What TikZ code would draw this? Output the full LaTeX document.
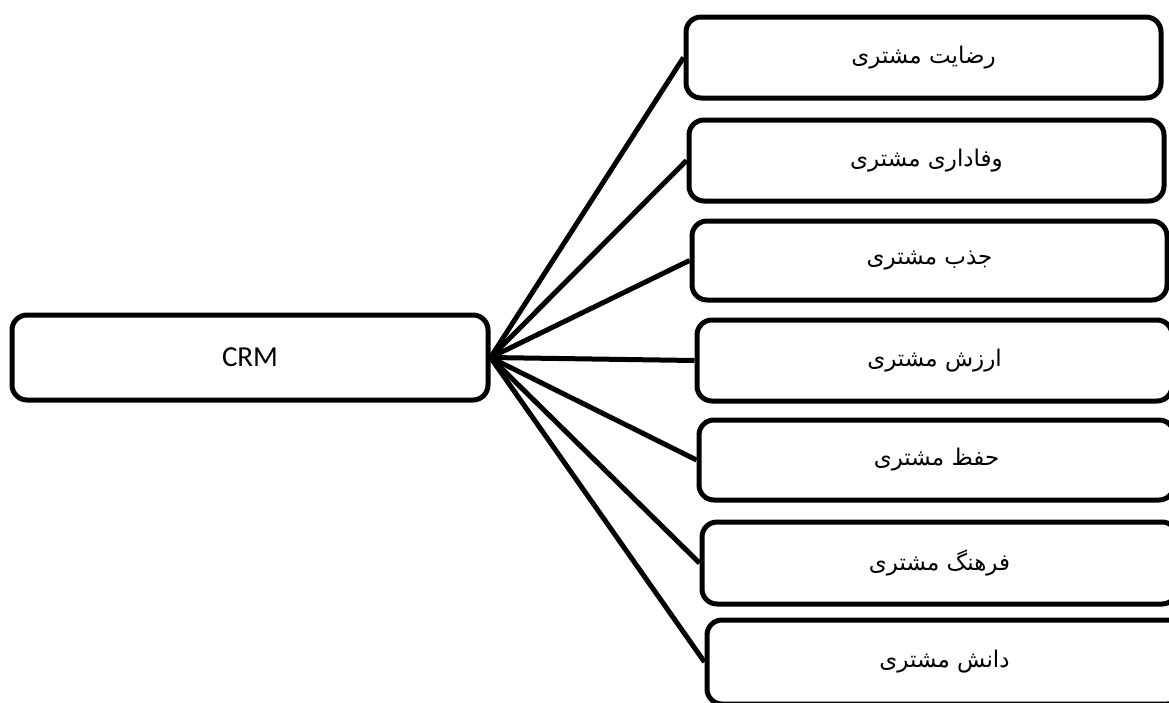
\documentclass[tikz,border=0pt]{standalone}
\usepackage{fontspec}
\newfontfamily\arabicfont[Script=Arabic]{DejaVu Sans}
\newfontfamily\crmfont{Carlito}
\TeXXeTstate=1
\begin{document}
\begin{tikzpicture}[x=1pt,y=-1pt,
  box/.style={draw=black,line width=5pt,rounded corners=15pt,fill=white,
    minimum width=475pt,minimum height=81pt,inner sep=0pt},
  fa/.style={box,font=\arabicfont\fontsize{23}{27}\selectfont},
  link/.style={draw=black,line width=5pt}]
\useasboundingbox (0,0) rectangle (1169,702);
\node[box,minimum width=476pt,minimum height=85pt,font=\crmfont\fontsize{29}{34}\selectfont] (crm) at (250,357.5) {CRM};
\node[fa] (b1) at (923.5,57.5) {\beginR رضایت مشتری\endR};
\node[fa] (b2) at (926.5,160.5) {\beginR وفاداری مشتری\endR};
\node[fa,minimum height=79pt] (b3) at (929.5,260.5) {\beginR جذب مشتری\endR};
\node[fa] (b4) at (934.5,360.5) {\beginR ارزش مشتری\endR};
\node[fa,minimum height=80pt] (b5) at (936.5,460) {\beginR حفظ مشتری\endR};
\node[fa,minimum height=82pt] (b6) at (939.5,563) {\beginR فرهنگ مشتری\endR};
\node[fa,minimum height=84pt] (b7) at (944.5,662) {\beginR دانش مشتری\endR};
\foreach \i in {1,...,7} {\draw[link] (crm.east) -- (b\i.west);}
\end{tikzpicture}
\end{document}
